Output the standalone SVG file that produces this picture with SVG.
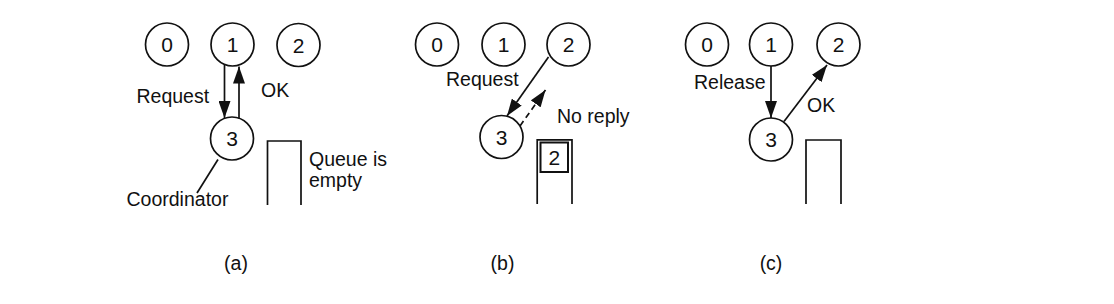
<svg xmlns="http://www.w3.org/2000/svg" width="1114" height="304" viewBox="0 0 1114 304">
<style>
  .node circle { fill: #fff; stroke: #111; stroke-width: 1.7; }
  text { font-family: "Liberation Sans", Arial, Helvetica, sans-serif; fill: #111; }
  .num { font-size: 21px; text-anchor: middle; }
  .lbl { font-size: 19.5px; }
  .cap { font-size: 19.5px; text-anchor: middle; }
  .edge { stroke: #111; stroke-width: 1.7; fill: none; }
  .dash { stroke-dasharray: 6 4; }
  .queue { stroke: #111; stroke-width: 1.7; fill: none; }
</style>
<defs>
  <marker id="ah" markerUnits="userSpaceOnUse" markerWidth="17" markerHeight="12" refX="17" refY="6" orient="auto">
    <path d="M0,0 L17,6 L0,12 Z" fill="#111"/>
  </marker>
</defs>
<rect width="1114" height="304" fill="#fff"/>

<!-- Panel (a) -->
<g id="a-n0" class="node"><circle cx="167" cy="44.5" r="21.5"/><text class="num" x="167" y="52">0</text></g>
<g id="a-n1" class="node"><circle cx="232.5" cy="44.5" r="21.5"/><text class="num" x="232.5" y="52">1</text></g>
<g id="a-n2" class="node"><circle cx="298.5" cy="45" r="21.5"/><text class="num" x="298.5" y="52.5">2</text></g>
<g id="a-n3" class="node"><circle cx="232" cy="138.5" r="21.5"/><text class="num" x="232" y="146">3</text></g>
<g id="a-queue"><path class="queue" d="M267.5,205 V141 H301 V205"/></g>
<g id="a-labels">
  <text class="lbl" x="136.5" y="103">Request</text>
  <text class="lbl" x="261" y="97">OK</text>
  <text class="lbl" x="126.5" y="206">Coordinator</text>
  <text class="lbl" x="309" y="166">Queue is</text>
  <text class="lbl" x="309" y="187">empty</text>
  <text class="cap" x="236" y="270">(a)</text>
</g>

<!-- Panel (b) -->
<g id="b-n0" class="node"><circle cx="437" cy="44.5" r="21.5"/><text class="num" x="437" y="52">0</text></g>
<g id="b-n1" class="node"><circle cx="503.5" cy="44.5" r="21.5"/><text class="num" x="503.5" y="52">1</text></g>
<g id="b-n2" class="node"><circle cx="568.5" cy="44.5" r="21.5"/><text class="num" x="568.5" y="52">2</text></g>
<g id="b-n3" class="node"><circle cx="501.5" cy="137" r="21.5"/><text class="num" x="501.5" y="144.5">3</text></g>
<g id="b-queue">
  <path class="queue" d="M537.2,204 V139.8 H572 V204" stroke-width="2.3"/>
  <rect x="540.5" y="142.5" width="27.5" height="29.5" fill="#fff" stroke="#111" stroke-width="2"/>
  <text class="num" x="554.3" y="164.5">2</text>
</g>
<g id="b-labels">
  <text class="lbl" x="446" y="86">Request</text>
  <text class="lbl" x="557" y="123">No reply</text>
  <text class="cap" x="502.5" y="270">(b)</text>
</g>

<!-- Panel (c) -->
<g id="c-n0" class="node"><circle cx="707" cy="44.5" r="21.5"/><text class="num" x="707" y="52">0</text></g>
<g id="c-n1" class="node"><circle cx="771" cy="44.5" r="21.5"/><text class="num" x="771" y="52">1</text></g>
<g id="c-n2" class="node"><circle cx="838.5" cy="44.5" r="21.5"/><text class="num" x="838.5" y="52">2</text></g>
<g id="c-n3" class="node"><circle cx="771" cy="139.5" r="21.5"/><text class="num" x="771" y="147">3</text></g>
<g id="c-queue"><path class="queue" d="M806,204 V140 H841 V204"/></g>
<g id="c-labels">
  <text class="lbl" x="694" y="89">Release</text>
  <text class="lbl" x="807" y="112">OK</text>
  <text class="cap" x="771" y="270">(c)</text>
</g>

<!-- Connectors -->
<g id="connectors">
  <line class="edge" x1="224.5" y1="65" x2="224.5" y2="118" marker-end="url(#ah)"/>
  <line class="edge" x1="239" y1="118.5" x2="239" y2="66.5" marker-end="url(#ah)"/>
  <line class="edge" x1="218" y1="159.5" x2="197" y2="193"/>
  <line class="edge" x1="548.5" y1="57" x2="507" y2="116" marker-end="url(#ah)"/>
  <line class="edge dash" x1="520" y1="126" x2="545.5" y2="90" marker-end="url(#ah)"/>
  <line class="edge" x1="771" y1="66" x2="771" y2="118" marker-end="url(#ah)"/>
  <line class="edge" x1="784" y1="121.5" x2="827" y2="65" marker-end="url(#ah)"/>
</g>
</svg>
